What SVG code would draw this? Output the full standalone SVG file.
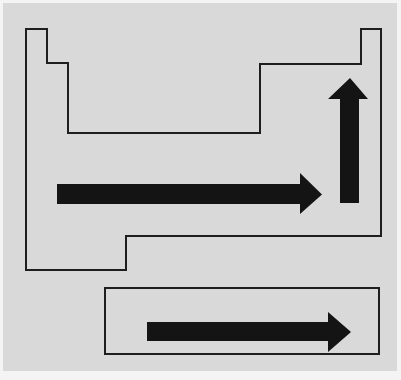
<svg xmlns="http://www.w3.org/2000/svg" width="401" height="380" viewBox="0 0 401 380">
  <style>
    .outline { fill: none; stroke: #1e1e1e; stroke-width: 2; stroke-linejoin: miter; }
    .arrow { fill: #141414; stroke: none; }
  </style>
  <rect x="0" y="0" width="401" height="380" fill="#f4f4f4"/>
  <rect x="3" y="3" width="394" height="368" fill="#d9d9d9"/>
  <g id="table-outline">
    <path class="outline" d="M26,29 H47 V63 H68 V133 H260 V64 H361 V29 H381 V236 H126 V270 H26 Z"/>
  </g>
  <g id="fblock-outline">
    <rect class="outline" x="105" y="288" width="274" height="66"/>
  </g>
  <g id="connectors">
    <path id="arrow-period" class="arrow" d="M57,184 H300 V173 L322,194.5 L300,214 V204 H57 Z"/>
    <path id="arrow-group" class="arrow" d="M340,203 V99 H328 L350,78 L368,99 H359 V203 Z"/>
    <path id="arrow-fblock" class="arrow" d="M147,322 H328 V312 L351,332 L328,352 V341 H147 Z"/>
  </g>
</svg>
